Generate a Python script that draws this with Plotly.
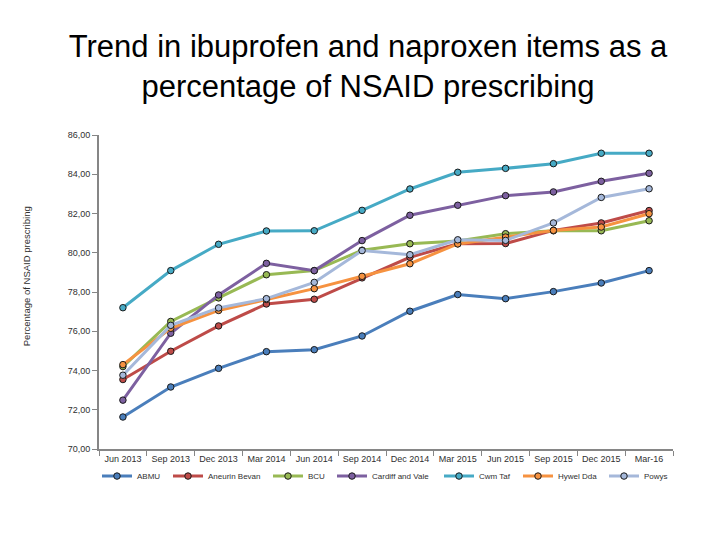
import plotly.graph_objects as go

quarters = ["Jun 2013", "Sep 2013", "Dec 2013", "Mar 2014", "Jun 2014", "Sep 2014",
            "Dec 2014", "Mar 2015", "Jun 2015", "Sep 2015", "Dec 2015", "Mar-16"]

abmu = [71.63, 73.16, 74.11, 74.96, 75.06, 75.76, 77.02, 77.87, 77.66, 78.02, 78.46, 79.09]
aneurin_bevan = [73.54, 74.98, 76.27, 77.39, 77.63, 78.72, 79.77, 80.46, 80.47, 81.14, 81.52, 82.15]
bcu = [74.20, 76.50, 77.70, 78.88, 79.09, 80.13, 80.46, 80.60, 80.97, 81.12, 81.12, 81.63]
cardiff_vale = [72.49, 75.90, 77.85, 79.46, 79.09, 80.62, 81.91, 82.42, 82.91, 83.10, 83.64, 84.05]
cwm_taf = [77.20, 79.09, 80.43, 81.11, 81.12, 82.16, 83.25, 84.10, 84.30, 84.54, 85.07, 85.07]
hywel_dda = [74.30, 76.15, 77.06, 77.62, 78.17, 78.80, 79.44, 80.45, 80.80, 81.14, 81.31, 81.99]
powys = [73.76, 76.30, 77.19, 77.66, 78.49, 80.11, 79.90, 80.66, 80.63, 81.52, 82.82, 83.26]

series = [
    ("ABMU", abmu, "#4A7EBB", 26),
    ("Aneurin Bevan", aneurin_bevan, "#BE4B48", 55),
    ("BCU", bcu, "#98B954", 19),
    ("Cardiff and Vale", cardiff_vale, "#7D60A0", 62),
    ("Cwm Taf", cwm_taf, "#46AAC5", 34),
    ("Hywel Dda", hywel_dda, "#F69240", 41),
    ("Powys", powys, "#A5B8DA", 26),
]

y_ticks = [70, 72, 74, 76, 78, 80, 82, 84, 86]

fig = go.Figure()
for name, vals, col, lw in series:
    fig.add_trace(go.Scatter(
        x=quarters, y=vals, name=name, mode="lines+markers",
        line=dict(color=col, width=3),
        marker=dict(symbol="circle", size=6.5, color=col,
                    line=dict(color="#1a1a1a", width=1)),
        legendwidth=lw,
    ))

fig.update_layout(
    width=720, height=540,
    paper_bgcolor="white", plot_bgcolor="white",
    separators=",.",
    margin=dict(l=91, r=55, t=127, b=99, autoexpand=False),
    title=dict(
        text="Trend in ibuprofen and naproxen items as a<br>percentage of NSAID prescribing",
        x=0.5, xanchor="center", y=0.909, yanchor="middle",
        font=dict(family="Liberation Sans, Arial", size=31, color="black"),
    ),
    font=dict(family="Liberation Sans, Arial", size=9, color="#404040"),
    showlegend=True,
    legend=dict(orientation="h", x=0.5, xanchor="center",
                y=-0.04, yanchor="top",
                font=dict(family="Liberation Sans, Arial", size=8, color="#303030"),
                itemwidth=30, tracegroupgap=0, bgcolor="rgba(0,0,0,0)"),
    xaxis=dict(
        type="category", showgrid=False, zeroline=False,
        showline=True, linecolor="#868686", linewidth=2,
        ticks="outside", ticklen=5, tickcolor="#868686", tickson="boundaries",
        tickfont=dict(size=9, color="#303030"), range=[-0.5, 11.5], tickangle=0,
    ),
    yaxis=dict(
        range=[70, 86], tickvals=y_ticks, tickformat=".2f",
        showgrid=False, zeroline=False,
        showline=True, linecolor="#868686", linewidth=2,
        ticks="outside", ticklen=5, tickcolor="#868686",
        tickfont=dict(size=9, color="#303030"),
    ),
    annotations=[dict(
        text="Percentage of NSAID prescribing", textangle=-90,
        xref="paper", yref="paper", x=-0.125, y=0.551,
        xanchor="center", yanchor="middle", showarrow=False,
        font=dict(size=9.5, color="#303030"),
    )],
)

fig.write_html("out.html")
